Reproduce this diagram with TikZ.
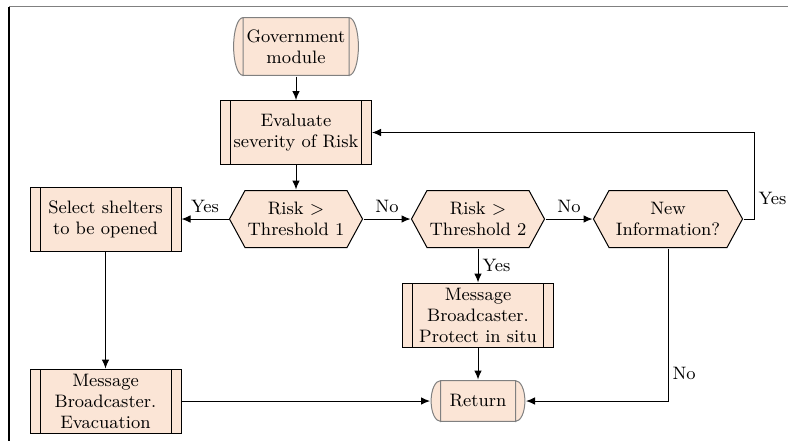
\documentclass[tikz,border=0pt]{standalone}
\usetikzlibrary{arrows.meta,calc}
\definecolor{peach}{RGB}{251,229,214}
\definecolor{tgray}{RGB}{128,128,128}
\begin{document}
\begin{tikzpicture}[x=0.5pt,y=-0.5pt,
  font=\fontsize{9}{10.5}\selectfont,
  proc/.style={draw=black, fill=peach, line width=0.5pt, minimum width=75.5pt,
    minimum height=32pt, inner sep=1pt, align=center,
    path picture={\draw[line width=0.5pt]
      ([xshift=5pt]path picture bounding box.north west) -- ([xshift=5pt]path picture bounding box.south west)
      ([xshift=-5pt]path picture bounding box.north east) -- ([xshift=-5pt]path picture bounding box.south east);}},
  decis/.style={minimum width=#1, minimum height=29pt, align=center, inner sep=1pt, line width=0.5pt,
    path picture={\path let \p1=(path picture bounding box.north east),
        \p2=(path picture bounding box.south west), \n1={0.5*(\y1+\y2)} in
      [fill=peach, draw=black, line width=0.5pt]
      (\x2+0.25pt,\n1) -- (\x2+8pt,\y1-0.25pt) -- (\x1-8pt,\y1-0.25pt) -- (\x1-0.25pt,\n1)
      -- (\x1-8pt,\y2+0.25pt) -- (\x2+8pt,\y2+0.25pt) -- cycle;}},
  term/.style={minimum width=#1, align=center, inner sep=1pt, line width=0.5pt,
    path picture={\path let \p1=(path picture bounding box.north east),
        \p2=(path picture bounding box.south west), \n1={0.5*(\y1-\y2)-0.3pt} in
      [fill=peach, draw=tgray, line width=0.5pt]
      (\x1-5pt,\y1-0.3pt) -- (\x2+5pt,\y1-0.3pt)
      arc[start angle=90,end angle=270,x radius=4.7pt,y radius=\n1]
      -- (\x1-5pt,\y2+0.3pt)
      arc[start angle=-90,end angle=90,x radius=4.7pt,y radius=\n1] -- cycle
      (\x2+5pt,\y1) -- (\x2+5pt,\y2) (\x1-5pt,\y1) -- (\x1-5pt,\y2);}},
  arr/.style={-{Latex[length=4.5pt,width=3.8pt]}, line width=0.5pt},
  lab/.style={inner sep=2pt}
]
\useasboundingbox (0,0) rectangle (788,441);
\draw[tgray, line width=0.8pt] (9,6.5) -- (788,6.5);
\draw[black, line width=0.6pt] (9,6.5) -- (9,441);

\node[term=63pt, minimum height=29.5pt] (gov) at (296,46.5) {Government\\module};
\node[proc] (eval) at (296,132.5) {Evaluate\\severity of Risk};
\node[decis=67pt] (t1) at (296,219) {Risk $>$\\Threshold 1};
\node[proc] (sel) at (105.5,219) {Select shelters\\to be opened};
\node[decis=67pt] (t2) at (478,219) {Risk $>$\\Threshold 2};
\node[decis=75pt] (ni) at (668,219) {New\\Information?};
\node[proc] (prot) at (478,315) {Message\\Broadcaster.\\Protect in situ};
\node[term=47.5pt, minimum height=21pt] (ret) at (478,401) {Return};
\node[proc] (evac) at (105.5,401) {Message\\Broadcaster.\\Evacuation};

\coordinate (loopb) at (754,219);
\coordinate (nic) at (668,401);

\draw[arr] (gov) -- (eval);
\draw[arr] (eval) -- (t1);
\draw[arr] (t1) -- node[lab, above=1pt] {Yes} (sel);
\draw[arr] (t1) -- node[lab, above=1pt] {No} (t2);
\draw[arr] (t2) -- node[lab, above=1pt] {No} (ni);
\draw[arr] (ni.east) -- (loopb) |- node[lab, right, pos=0.12] {Yes} (eval.east);
\draw[arr] (t2) -- node[lab, right] {Yes} (prot);
\draw[arr] (prot) -- (ret);
\draw[arr] (sel) -- (evac);
\draw[arr] (evac) -- (ret);
\draw[arr] (ni.south) -- node[lab, right, pos=0.82] {No} (nic) -- (ret.east);
\end{tikzpicture}
\end{document}
